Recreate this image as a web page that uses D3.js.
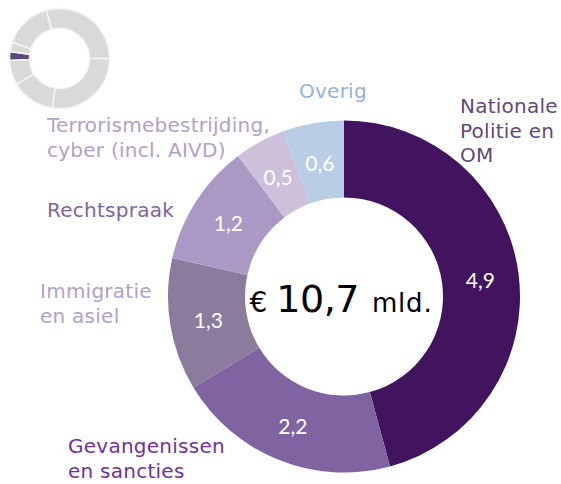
<!DOCTYPE html>
<html>
<head>
<meta charset="utf-8">
<script src="https://cdn.jsdelivr.net/npm/d3@7"></script>
<style>
  body { margin: 0; background: #fff; }
  svg { display: block; }
</style>
</head>
<body>
<div id="chart"></div>
<script>
// main donut
const categories = ['Nationale Politie en OM', 'Gevangenissen en sancties', 'Immigratie en asiel', 'Rechtspraak', 'Terrorismebestrijding, cyber (incl. AIVD)', 'Overig']
const values = [4.9, 2.2, 1.3, 1.2, 0.5, 0.6]
const labelLines = [['Nationale', 'Politie en', 'OM'], ['Gevangenissen', 'en sancties'], ['Immigratie', 'en asiel'], ['Rechtspraak'], ['Terrorismebestrijding,', 'cyber (incl. AIVD)'], ['Overig']]
const totalLabel = ['€', '10,7', 'mld.']

// small donut in the corner: share of the whole budget (purple = this chart)
const miniValues = [105.5, 98.5, 50.5, 29, 10, 11, 55.5]
const miniHighlight = 4

const width = 561, height = 484

const sliceColors = ['#42145f', '#8064a2', '#8b7b9d', '#ab98c5', '#ccc0da', '#b9cde5']
const labelColors = ['#5f497a', '#7030a0', '#b2a1c7', '#8064a2', '#b2a1c7', '#95b3d7']
// label anchor points (left x, first baseline y)
const labelPos = [[460, 113], [68, 453], [40, 298], [47, 217], [47, 132], [299, 98]]

const nl = d3.formatLocale({decimal: ',', thousands: '.', grouping: [3], currency: ['€', '']})
const fmt = nl.format('.1f')

const svg = d3.select('#chart').append('svg')
  .attr('width', width)
  .attr('height', height)

const cx = 344, cy = 296.5
const outerR = 176, innerR = 99

const pie = d3.pie().sort(null).value(d => d)
const arcs = pie(values)

const arc = d3.arc().innerRadius(innerR).outerRadius(outerR)

const g = svg.append('g').attr('transform', `translate(${cx},${cy})`)

g.selectAll('path.slice')
  .data(arcs)
  .join('path')
  .attr('class', 'slice')
  .attr('d', arc)
  .attr('fill', (d, i) => sliceColors[i])

g.selectAll('text.val')
  .data(arcs)
  .join('text')
  .attr('class', 'val')
  .attr('transform', d => `translate(${arc.centroid(d)})`)
  .attr('dy', '0.45em')
  .attr('text-anchor', 'middle')
  .attr('fill', '#fff')
  .style('font-family', 'Lato, "Open Sans", sans-serif')
  .style('font-size', '21px')
  .text(d => fmt(d.data))

// centre total
const total = g.append('text')
  .attr('x', -3)
  .attr('y', 15.5)
  .attr('text-anchor', 'middle')
  .attr('fill', '#000')
  .style('font-family', '"DejaVu Sans", Verdana, sans-serif')
total.append('tspan').style('font-size', '28px').text(totalLabel[0])
total.append('tspan')
  .attr('dx', 9)
  .style('font-size', '38px')
  .style('letter-spacing', '-0.5px')
  .text(totalLabel[1])
total.append('tspan')
  .attr('dx', 13)
  .style('font-size', '26px')
  .style('letter-spacing', '0.8px')
  .text(totalLabel[2])

// category labels
labelLines.forEach((lines, i) => {
  const t = svg.append('text')
    .attr('x', labelPos[i][0])
    .attr('y', labelPos[i][1])
    .attr('fill', labelColors[i])
    .style('font-family', '"DejaVu Sans", Verdana, sans-serif')
    .style('font-size', '20px')
    .style('letter-spacing', '0.25px')
  lines.forEach((l, j) => {
    t.append('tspan')
      .attr('x', labelPos[i][0])
      .attr('dy', j ? 24.5 : 0)
      .text(l)
  })
})

// mini donut
const miniArc = d3.arc().innerRadius(30).outerRadius(50)
const miniPie = d3.pie().sort(null).value(d => d)
  .startAngle(-15.5 * Math.PI / 180)
  .endAngle((360 - 15.5) * Math.PI / 180)

svg.append('g')
  .attr('transform', 'translate(59.5,58.5)')
  .selectAll('path')
  .data(miniPie(miniValues))
  .join('path')
  .attr('d', miniArc)
  .attr('fill', (d, i) => i === miniHighlight ? '#5f497a' : '#d9d9d9')
  .attr('stroke', '#f4f4f4')
  .attr('stroke-width', 1.5)
</script>
</body>
</html>
